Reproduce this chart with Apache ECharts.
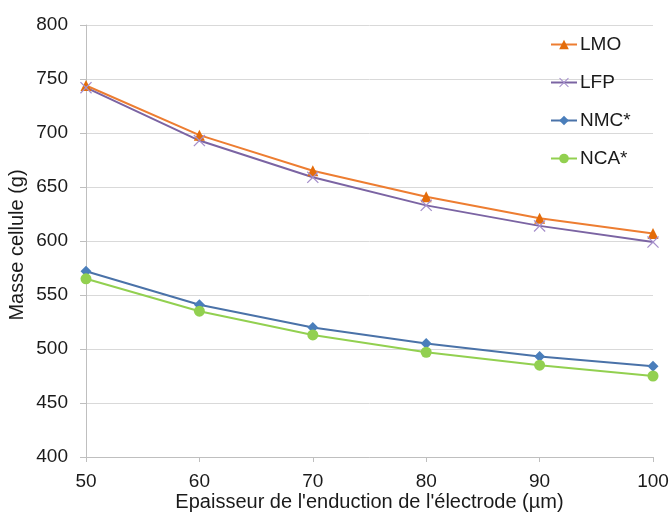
<!DOCTYPE html>
<html><head><meta charset="utf-8">
<script src="https://cdn.jsdelivr.net/npm/echarts@6/dist/echarts.min.js"></script>
<style>html,body{margin:0;padding:0;background:#fff}#c{width:670px;height:513px}</style>
</head><body><div id="c"></div>
<script>
var thickness = [50, 60, 70, 80, 90, 100];
var LMO = [744, 698, 665, 641, 621, 607];
var LFP = [742, 693, 659, 633, 614, 599];
var NMC = [572, 541, 520, 505, 493, 484];
var NCA = [565, 535, 513, 497, 485, 475];

function pairs(v){ return thickness.map(function(x,i){ return [x, v[i]]; }); }
var xPath = 'path://M0,1.5 L1.5,0 L10,8.5 L18.5,0 L20,1.5 L11.5,10 L20,18.5 L18.5,20 L10,11.5 L1.5,20 L0,18.5 L8.5,10 Z';
var font = 'Liberation Sans, Arial, sans-serif';
var chart = echarts.init(document.getElementById('c'));
chart.setOption({
  animation: false,
  textStyle: { fontFamily: font },
  grid: { left: 86, right: 17, top: 25, bottom: 56, containLabel: false, outerBoundsMode: 'none' },
  legend: {
    orient: 'vertical', left: 545, top: 30, itemGap: 19, itemWidth: 26, itemHeight: 12,
    textStyle: { fontSize: 19, color: '#1a1a1a', fontFamily: font, padding: [0, 0, 0, -2] }
  },
  xAxis: {
    type: 'value', min: 50, max: 100, interval: 10,
    name: "Epaisseur de l'enduction de l'électrode (µm)", nameLocation: 'middle', nameGap: 35,
    nameMoveOverlap: false,
    nameTextStyle: { fontSize: 20, color: '#1a1a1a' },
    axisLine: { lineStyle: { color: '#bfbfbf' } },
    axisTick: { show: true, length: 5, lineStyle: { color: '#bfbfbf' } },
    axisLabel: { fontSize: 19, color: '#1a1a1a', margin: 15 },
    splitLine: { show: false }
  },
  yAxis: {
    type: 'value', min: 400, max: 800, interval: 50,
    name: 'Masse cellule (g)', nameLocation: 'middle', nameGap: 59,
    nameMoveOverlap: false,
    nameTextStyle: { fontSize: 20, color: '#1a1a1a', padding: [0, 0, 0, -8] },
    axisLine: { show: true, lineStyle: { color: '#bfbfbf' } },
    axisTick: { show: true, length: 6, lineStyle: { color: '#bfbfbf' } },
    axisLabel: { fontSize: 19, color: '#1a1a1a', margin: 18 },
    splitLine: { lineStyle: { color: '#d9d9d9', width: 1 } }
  },
  series: [
    { name: 'LMO', type: 'line', data: pairs(LMO), symbol: 'triangle', symbolSize: 11,
      lineStyle: { color: '#ED7D31', width: 2 }, itemStyle: { color: '#E46C0A' } },
    { name: 'LFP', type: 'line', data: pairs(LFP), symbol: xPath, symbolSize: 12,
      lineStyle: { color: '#7B64A3', width: 2 }, itemStyle: { color: '#A58FCB' } },
    { name: 'NMC*', type: 'line', data: pairs(NMC), symbol: 'diamond', symbolSize: 11,
      lineStyle: { color: '#4A72A8', width: 2 }, itemStyle: { color: '#4A7EBB' } },
    { name: 'NCA*', type: 'line', data: pairs(NCA), symbol: 'circle', symbolSize: 11,
      lineStyle: { color: '#92D050', width: 2 }, itemStyle: { color: '#92D050' } }
  ]
});
</script></body></html>
